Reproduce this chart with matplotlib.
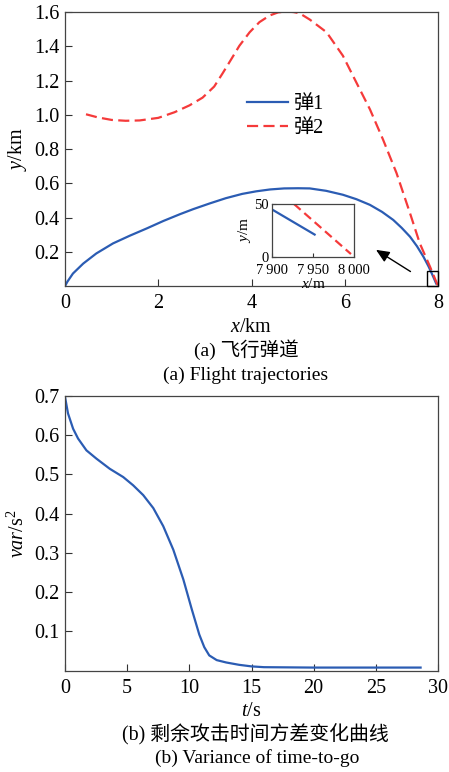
import matplotlib
matplotlib.use("Agg")
import matplotlib.pyplot as plt
from matplotlib.patches import Rectangle

plt.rcParams['font.family'] = ['Liberation Serif', 'Noto Sans CJK SC', 'DejaVu Sans']
plt.rcParams['mathtext.fontset'] = 'custom'
plt.rcParams['mathtext.rm'] = 'Liberation Serif'
plt.rcParams['mathtext.it'] = 'Liberation Serif:italic'

# ---- data: (a) flight trajectories (km) ----
m1_x = [0.0, 0.05, 0.17, 0.39, 0.67, 1.03, 1.39, 1.75, 2.11, 2.47, 2.75, 3.1, 3.45, 3.8, 4.1, 4.4,
        4.7, 5.0, 5.25, 5.6, 5.96, 6.25, 6.54, 6.8, 7.04, 7.22, 7.40, 7.55, 7.69, 7.80, 7.90, 7.96]
m1_y = [0.0, 0.025, 0.073, 0.131, 0.19, 0.249, 0.294, 0.336, 0.38, 0.42, 0.449, 0.482, 0.513, 0.538, 0.553, 0.564,
        0.570, 0.571, 0.570, 0.556, 0.533, 0.507, 0.474, 0.433, 0.386, 0.34, 0.288, 0.232, 0.170, 0.113, 0.053, 0.015]
m2_x = [0.45, 0.7, 1.0, 1.3, 1.6, 2.0, 2.35, 2.67, 2.95, 3.20, 3.38, 3.56, 3.74, 3.96, 4.17, 4.39, 4.57, 4.75,
        4.9, 5.03, 5.25, 5.61, 5.96, 6.25, 6.54, 6.82, 7.11, 7.40, 7.61, 7.83, 7.997]
m2_y = [1.003, 0.985, 0.97, 0.965, 0.967, 0.982, 1.015, 1.055, 1.10, 1.165, 1.242, 1.322, 1.403, 1.482, 1.541, 1.58, 1.598, 1.603,
        1.60, 1.593, 1.556, 1.482, 1.345, 1.188, 1.032, 0.856, 0.66, 0.425, 0.249, 0.112, 0.002]
series_names = ['弹1', '弹2']

# inset (m)
z1_x = [7900, 7952]
z1_y = [45, 21]
z2_x = [7927, 7996]
z2_y = [50, 2.5]

# ---- data: (b) variance of time-to-go ----
t_s = [0.0, 0.24, 0.65, 1.05, 1.72, 2.52, 3.6, 4.68, 5.48, 6.29, 7.1, 7.9, 8.71, 9.52, 10.19, 10.8, 11.2, 11.6,
       12.2, 12.96, 14.0, 15.0, 16.0, 20.0, 25.0, 28.6]
var_s = [0.697, 0.655, 0.616, 0.591, 0.561, 0.540, 0.514, 0.493, 0.472, 0.447, 0.414, 0.368, 0.308, 0.232, 0.157, 0.092, 0.060, 0.039,
         0.027, 0.021, 0.015, 0.011, 0.009, 0.008, 0.008, 0.008]

a_xticks = [0, 2, 4, 6, 8]
a_yticks = [0.2, 0.4, 0.6, 0.8, 1.0, 1.2, 1.4, 1.6]
b_xticks = [0, 5, 10, 15, 20, 25, 30]
b_yticks = [0.1, 0.2, 0.3, 0.4, 0.5, 0.6, 0.7]
z_xticks = [7900, 7950, 8000]
z_xlabels = ['7\u2009900', '7\u2009950', '8\u2009000']
z_yticks = [0, 50]

BLUE = '#2b5cb3'
RED = '#f53a3a'
FS = 14.5

fig = plt.figure(figsize=(4.49, 7.72), dpi=100)

def style(ax, fs=FS, length=5, pad=4):
    ax.tick_params(direction='in', top=False, right=False, labelsize=fs, length=length, width=0.8,
                   color='#333333', pad=pad)
    for s in ax.spines.values():
        s.set_color('#444444')
        s.set_linewidth(0.9)

# (a)
ax1 = fig.add_axes([0.1448, 0.6295, 0.8307, 0.3549])
ax1.plot(m1_x, m1_y, color=BLUE, lw=1.6, label=series_names[0])
ax1.plot(m2_x, m2_y, color=RED, lw=1.6, ls=(0, (5, 2.4)), label=series_names[1])
ax1.set_xlim(0, 8)
ax1.set_ylim(0, 1.6)
ax1.set_xticks(a_xticks)
ax1.set_xticklabels([str(v) for v in a_xticks])
ax1.set_yticks(a_yticks)
ax1.set_yticklabels([f'{v:.1f}' for v in a_yticks])
style(ax1)
ax1.tick_params(axis='x', pad=6)
ax1.set_xlabel(r'$x$/km', fontsize=FS, labelpad=3)
ax1.set_ylabel(r'$y$/km', fontsize=FS, labelpad=4)
leg = ax1.legend(loc='upper left', bbox_to_anchor=(0.4665, 0.728), frameon=False, fontsize=FS,
                 handlelength=2.05, handletextpad=0.25, labelspacing=0.25, borderaxespad=0)
ax1.add_patch(Rectangle((7.76, 0.0), 0.24, 0.087, fill=False, ec='black', lw=1.0, clip_on=False, zorder=5))
ax1.annotate('', xy=(6.62, 0.22), xytext=(7.46, 0.076),
             arrowprops=dict(arrowstyle='-|>,head_length=0.8,head_width=0.35', color='black', lw=1.0))

# inset
axi = fig.add_axes([0.605, 0.6675, 0.184, 0.0683])
axi.plot(z1_x, z1_y, color=BLUE, lw=1.6)
axi.plot(z2_x, z2_y, color=RED, lw=1.6, ls=(0, (4, 2.2)))
axi.set_xlim(7900, 8000)
axi.set_ylim(0, 50)
axi.set_xticks(z_xticks)
axi.set_xticklabels(z_xlabels)
axi.set_yticks(z_yticks)
style(axi, fs=10.5, length=3, pad=2)
axi.tick_params(axis='x', pad=5)
axi.set_xlabel(r'$x$/m', fontsize=11, labelpad=0)
axi.set_ylabel(r'$y$/m', fontsize=11, labelpad=1)

fig.text(246 / 449, 1 - 350 / 772, '(a) 飞行弹道', ha='center', va='center', fontsize=14)
fig.text(246 / 449, 1 - 375 / 772, '(a) Flight trajectories', ha='center', va='center', fontsize=14)

# (b)
ax2 = fig.add_axes([0.1448, 0.1312, 0.8307, 0.3562])
ax2.plot(t_s, var_s, color=BLUE, lw=1.6)
ax2.set_xlim(0, 30)
ax2.set_ylim(0, 0.7)
ax2.set_xticks(b_xticks)
ax2.set_xticklabels([str(v) for v in b_xticks])
ax2.set_yticks(b_yticks)
ax2.set_yticklabels([f'{v:.1f}' for v in b_yticks])
style(ax2)
ax2.tick_params(axis='x', pad=6)
ax2.set_xlabel(r'$t$/s', fontsize=FS, labelpad=3)
ax2.set_ylabel(r'$var$/s$^2$', fontsize=FS, labelpad=4)

fig.text(255 / 449, 1 - 735 / 772, '(b) 剩余攻击时间方差变化曲线', ha='center', va='center', fontsize=14.3)
fig.text(257 / 449, 1 - 758 / 772, '(b) Variance of time-to-go', ha='center', va='center', fontsize=14)

fig.savefig('out.png', dpi=100)
